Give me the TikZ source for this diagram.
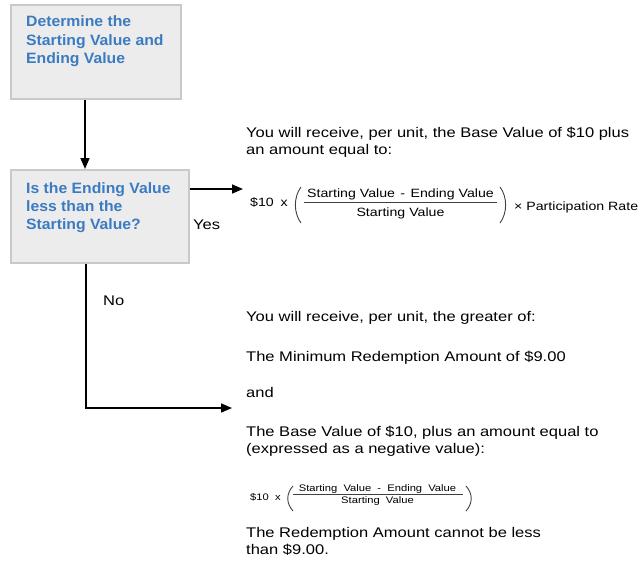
\documentclass[tikz,border=0pt]{standalone}
\usepackage{fontspec}
\setmainfont{Liberation Sans}
\newfontfamily\bodyf[FakeStretch=1.18]{Liberation Sans}
\newfontfamily\boxf[FakeStretch=1.05]{Liberation Sans}
\usetikzlibrary{arrows.meta}
\definecolor{boxfill}{HTML}{ECECEC}
\definecolor{boxline}{HTML}{C9C9C9}
\definecolor{boxtext}{HTML}{3B7BC2}
\begin{document}
\begin{tikzpicture}[x=1pt,y=-1pt,
  flowbox/.style={draw=boxline, fill=boxfill, line width=1.5pt, anchor=north west, inner sep=0pt},
  boxtxt/.style={anchor=base west, inner sep=0pt, align=left, text=boxtext,
    font=\boxf\bfseries\fontsize{15}{18.3}\selectfont},
  body/.style={anchor=base west, inner sep=0pt, align=left,
    font=\bodyf\fontsize{14}{17}\selectfont},
  fmlA/.style={anchor=base, inner sep=0pt, font=\bodyf\fontsize{12}{14}\selectfont},
  fmlB/.style={anchor=base, inner sep=0pt, font=\bodyf\fontsize{9.5}{11}\selectfont},
  conn/.style={line width=1.6pt, -{Triangle[length=11pt,width=9pt]}},
  paren/.style={line width=0.9pt, black!75},
  bar/.style={line width=0.7pt, black!75}
]
\useasboundingbox (0,0) rectangle (641,571);
\fill[white] (0,0) rectangle (641,571);

% boxes
\node[flowbox, minimum width=170pt, minimum height=94pt] (b1) at (10,4) {};
\node[flowbox, minimum width=178pt, minimum height=93pt] (b2) at (10,169) {};
\node[boxtxt] (t1) at (26,63.3) {Determine the\\Starting Value and\\Ending Value};
\node[boxtxt] (t2) at (26,229.9) {Is the Ending Value\\less than the\\Starting Value?};

% connectors
\coordinate (yesend) at (243,189);
\coordinate (noend) at (232,408);
\draw[conn] ([xshift=75pt]b1.south west) -- ([xshift=75pt]b2.north west);
\draw[conn] ([yshift=-20pt]b2.north east) -- (yesend);
\draw[conn] ([xshift=76pt]b2.south west) |- (noend);

\node[body] (yes) at (193,229) {Yes};
\node[body] (no) at (103,305) {No};

% top right text
\node[body] (r1) at (246,154) {You will receive, per unit, the Base Value of \$10 plus\\an amount equal to:};

% formula 1
\node[fmlA, anchor=base west] (f1a) at (250,206) {\$10\hspace{3pt} x};
\node[fmlA] (f1n) at (400.5,197) {Starting Value\hspace{1.5pt} - \hspace{1.5pt}Ending Value};
\node[fmlA] (f1d) at (400.5,216) {Starting Value};
\draw[bar] (304,202) -- (497,202);
\draw[paren] (301,187) .. controls (293.5,197) and (293.5,213) .. (301,223);
\draw[paren] (500,187) .. controls (507.5,197) and (507.5,213) .. (500,223);
\node[fmlA, anchor=base west] (f1r) at (514,210) {× Participation Rate};

% lower text
\node[body] (r2) at (246,321) {You will receive, per unit, the greater of:};
\node[body] (r3) at (246,361) {The Minimum Redemption Amount of \$9.00};
\node[body] (r4) at (246,397) {and};
\node[body] (r5) at (246,453.5) {The Base Value of \$10, plus an amount equal to\\(expressed as a negative value):};

% formula 2
\node[fmlB, anchor=base west] (f2a) at (250,500) {\$10\hspace{3pt} x};
\node[fmlB] (f2n) at (377.5,491) {Starting\hspace{3pt} Value\hspace{3pt} -\hspace{3pt} Ending\hspace{3pt} Value};
\node[fmlB] (f2d) at (377.5,503.5) {Starting\hspace{3pt} Value};
\draw[bar] (293,494.5) -- (463,494.5);
\draw[paren] (293,486) .. controls (286,494) and (286,503) .. (293,511);
\draw[paren] (466,486) .. controls (473,494) and (473,503) .. (466,511);

\node[body] (r6) at (246,554) {The Redemption Amount cannot be less\\than \$9.00.};
\end{tikzpicture}
\end{document}
